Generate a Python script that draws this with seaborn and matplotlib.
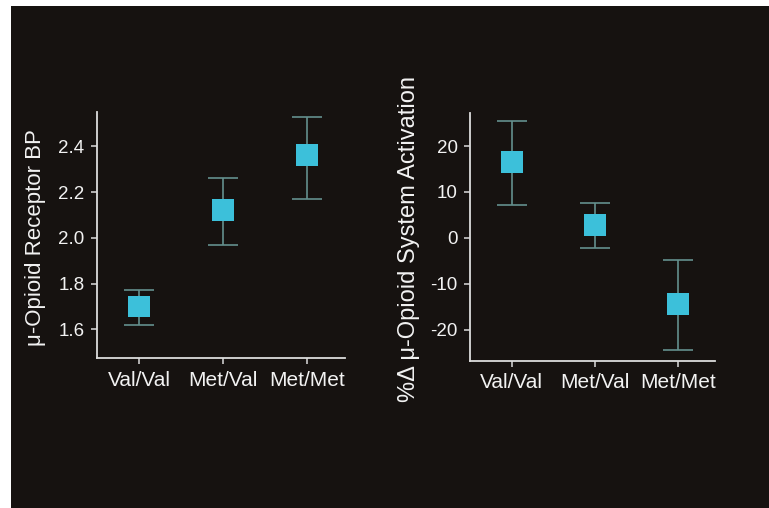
import matplotlib
matplotlib.use("Agg")
import matplotlib.pyplot as plt
import seaborn as sns
import pandas as pd
from matplotlib.patches import Rectangle

# genotipos y valores
genotypes = ["Val/Val", "Met/Val", "Met/Met"]

bp_mean = [1.70, 2.12, 2.36]
bp_low = [1.62, 1.97, 2.17]
bp_high = [1.77, 2.26, 2.53]

act_mean = [16.6, 2.9, -14.3]
act_low = [7.1, -2.3, -24.4]
act_high = [25.5, 7.7, -4.7]

BG = "#161210"
MARKER = "#3cc0da"
ERR = "#64908d"
FG = "#f2f2f2"

sns.set_style("ticks")
plt.rcParams["font.family"] = ["Liberation Sans", "DejaVu Sans"]

fig = plt.figure(figsize=(7.69, 5.08), dpi=100)
fig.patch.set_facecolor("white")
fig.patches.append(Rectangle((11 / 769, 0), 1, 502 / 508, transform=fig.transFigure,
                             facecolor=BG, edgecolor="none", zorder=-10))

ax1 = fig.add_axes([97 / 769, 1 - 358 / 508, 248 / 769, 246 / 508])
ax2 = fig.add_axes([470 / 769, 1 - 361 / 508, 245 / 769, 248 / 508])


def draw_panel(ax, mean, low, high, ylim, yticks, yticklabels, ylabel, label_x, label_size):
    df = pd.DataFrame({"genotype": genotypes, "value": mean})
    yerr = [[m - l for m, l in zip(mean, low)], [h - m for m, h in zip(mean, high)]]
    ax.errorbar(df["genotype"], df["value"], yerr=yerr, fmt="none", ecolor=ERR,
                elinewidth=1.2, capsize=11, capthick=1.2, zorder=2)
    sns.scatterplot(data=df, x="genotype", y="value", marker="s", s=250,
                    color=MARKER, edgecolor="none", ax=ax, zorder=3)
    ax.set_facecolor("none")
    ax.set_xlim(-0.5, 2.45)
    ax.set_ylim(*ylim)
    ax.set_yticks(yticks)
    ax.set_yticklabels(yticklabels)
    ax.set_xlabel("")
    ax.set_ylabel(ylabel, color=FG, fontsize=label_size)
    ax.yaxis.set_label_coords(label_x, 0.49)
    for side in ["top", "right"]:
        ax.spines[side].set_visible(False)
    for side in ["left", "bottom"]:
        ax.spines[side].set_color("#dcdcdc")
        ax.spines[side].set_linewidth(1.3)
    ax.tick_params(colors="#dcdcdc", labelcolor=FG, length=4, width=1.1, pad=5)
    ax.tick_params(axis="y", labelsize=13.5)
    ax.tick_params(axis="x", labelsize=15)


draw_panel(ax1, bp_mean, bp_low, bp_high, (1.475, 2.55),
           [1.6, 1.8, 2.0, 2.2, 2.4], ["1.6", "1.8", "2.0", "2.2", "2.4"],
           "μ-Opioid Receptor BP", -0.205, 16)
draw_panel(ax2, act_mean, act_low, act_high, (-26.8, 27.2),
           [-20, -10, 0, 10, 20], ["-20", "-10", "0", "10", "20"],
           "%Δ μ-Opioid System Activation", -0.205, 17)

fig.savefig("out.png", dpi=100, facecolor=fig.get_facecolor())
